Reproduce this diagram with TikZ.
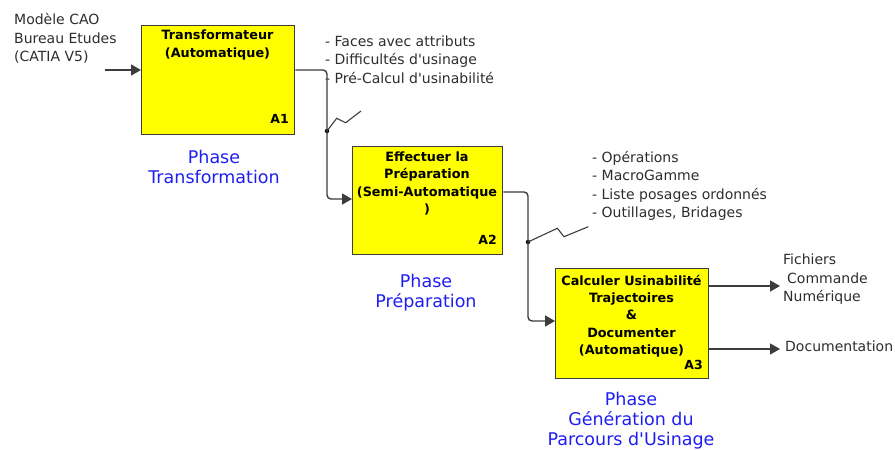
\documentclass[tikz,border=0pt]{standalone}
\usepackage{fontspec}
\setmainfont{DejaVu Sans}
\usetikzlibrary{arrows.meta}
\definecolor{boxyellow}{RGB}{255,255,0}
\definecolor{phaseblue}{RGB}{30,30,240}
\definecolor{linegray}{RGB}{60,60,60}
\definecolor{txtgray}{RGB}{45,45,45}
\newcommand{\apos}{\textquotesingle}
\begin{document}
\begin{tikzpicture}[x=1pt,y=-1pt,
 box/.style={draw=linegray, line width=1.4pt, fill=boxyellow, anchor=north west, inner sep=0pt},
 title/.style={font=\bfseries\fontsize{12.8}{17.3}\selectfont, align=center, inner sep=0pt},
 tag/.style={font=\bfseries\fontsize{12.5}{14}\selectfont, anchor=east, inner sep=0pt},
 phase/.style={text=phaseblue, font=\fontsize{17.5}{20}\selectfont, align=center, inner sep=0pt},
 note/.style={text=txtgray, font=\fontsize{14}{18.5}\selectfont, align=left, anchor=west, inner sep=0pt},
 conn/.style={draw=linegray, line width=1.4pt, rounded corners=4pt},
 arr/.style={conn, -{Triangle[length=10pt,width=11pt]}},
 dotc/.style={circle, fill=black, inner sep=0pt, minimum size=4.5pt},
 squig/.style={draw=linegray, line width=1.1pt}
]
\useasboundingbox (0,0) rectangle (895,450);
% boxes
\node[box, minimum width=153pt, minimum height=109pt] (A1) at (141,25) {};
\node[box, minimum width=150pt, minimum height=108pt] (A2) at (352,146) {};
\node[box, minimum width=153pt, minimum height=110pt] (A3) at (555,268) {};
% box texts
\node[title] (t1) at (217.5,45) {Transformateur\\(Automatique)};
\node[title] (t2) at (427,183.5) {Effectuer la\\Préparation\\(Semi-Automatique\\)};
\node[title] (t3) at (631.5,316) {Calculer Usinabilité\\Trajectoires\\\&\\Documenter\\(Automatique)};
\node[tag] (g1) at (289,119) {A1};
\node[tag] (g2) at (497,240) {A2};
\node[tag] (g3) at (703,365) {A3};
% phases
\node[phase] (p1) at (214,166.5) {Phase\\Transformation};
\node[phase] (p2) at (426,293) {Phase\\Préparation};
\node[phase] (p3) at (631,421) {Phase\\Génération du\\Parcours d\apos Usinage};
% notes
\node[note] (n0) at (14,38.5) {Modèle CAO\\Bureau Etudes\\(CATIA V5)};
\node[note] (n1) at (325,59.5) {- Faces avec attributs\\- Difficultés d\apos usinage\\- Pré-Calcul d\apos usinabilité};
\node[note] (n2) at (592,186) {- Opérations\\- MacroGamme\\- Liste posages ordonnés\\- Outillages, Bridages};
\node[note] (n3) at (783,279.5) {Fichiers\\\hspace*{4pt}Commande\\Numérique};
\node[note] (n4) at (785,346) {Documentation};
% connector points
\coordinate (in1) at (105,70);
\coordinate (c1) at (327,70);
\coordinate (c2) at (528,192);
\coordinate (o1) at (780,286);
\coordinate (o2) at (780,349);
\node[dotc] (d1) at (327,131) {};
\node[dotc] (d2) at (528,242) {};
% connectors
\draw[arr] (in1) -- (A1.west |- in1);
\draw[arr] (A1.east |- c1) -- (c1) -- (c1 |- 0,199) -- (A2.west |- 0,199);
\draw[arr] (A2.east |- c2) -- (c2) -- (c2 |- 0,321) -- (A3.west |- 0,321);
\draw[arr] (A3.east |- o1) -- (o1);
\draw[arr] (A3.east |- o2) -- (o2);
% squiggles
\draw[squig] (d1.center) -- (336.7,118.3) -- (345.7,122.7) -- (361,111);
\draw[squig] (d2.center) -- (557.3,228.3) -- (564,236.7) -- (588.3,226.7);
\end{tikzpicture}
\end{document}
